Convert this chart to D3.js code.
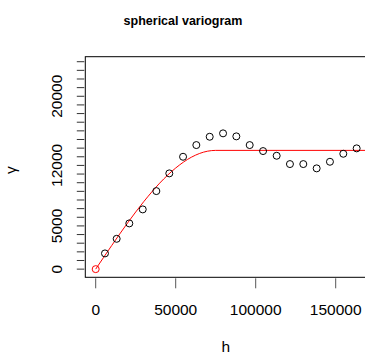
<!DOCTYPE html>
<html><head><meta charset="utf-8">
<script src="https://cdn.jsdelivr.net/npm/d3@7"></script>
<style>body{margin:0;background:#fff}svg{display:block}text{font-family:"Liberation Sans",Arial,sans-serif}</style>
</head><body>
<script>
// empirical variogram (lag distance h, semivariance gamma)
const lagH = [0, 5800, 13100, 21000, 29400, 37900, 46000, 54600, 62900, 71250, 79600, 87900, 96250, 104600, 113100, 121400, 129750, 138100, 146400, 154750, 163100];
const gammaVals = [0, 1818, 3508, 5291, 6911, 9030, 11079, 13001, 14355, 15316, 15710, 15362, 14355, 13661, 13117, 12156, 12156, 11658, 12422, 13348, 13973];
const pointColors = ["red"].concat(d3.range(20).map(() => "black"));
// fitted spherical model line
const lineH = [0, 10000, 20000, 30000, 40000, 50000, 60000, 70000, 75000, 180000];
const lineGamma = [0, 2730, 5360, 7800, 9950, 11700, 12970, 13650, 13740, 13740];
const xTicks = [0, 50000, 100000, 150000];
const yTicks = d3.range(0, 25000, 1000);
const yLabels = [0, 5000, 12000, 20000];
const xLim = [0, 162500], yLim = [0, 23634];

const W = 365, H = 355;
const box = {l: 85.3, r: 366.1, t: 56.7, b: 277.3};
const pad = (lim) => { const d = (lim[1] - lim[0]) * 0.04; return [lim[0] - d, lim[1] + d]; };
const x = d3.scaleLinear().domain(pad(xLim)).range([box.l, box.r]);
const y = d3.scaleLinear().domain(pad(yLim)).range([box.b, box.t]);

const svg = d3.select("body").append("svg").attr("width", W).attr("height", H);
svg.append("defs").append("clipPath").attr("id", "clip").append("rect")
  .attr("x", box.l).attr("y", box.t).attr("width", box.r - box.l).attr("height", box.b - box.t);

// title
svg.append("text").attr("x", 183).attr("y", 25).attr("text-anchor", "middle")
  .attr("font-weight", "bold").attr("font-size", 12.5).text("spherical variogram");

// box
svg.append("rect").attr("x", box.l).attr("y", box.t).attr("width", box.r - box.l).attr("height", box.b - box.t)
  .attr("fill", "none").attr("stroke", "#000").attr("stroke-width", 1);

// x axis
const xa = svg.append("g");
xa.selectAll("line").data(xTicks).join("line")
  .attr("x1", d => x(d)).attr("x2", d => x(d)).attr("y1", box.b + 1).attr("y2", box.b + 11)
  .attr("stroke", "#555").attr("stroke-width", 1);
xa.selectAll("text").data(xTicks).join("text")
  .attr("x", d => x(d)).attr("y", 315).attr("text-anchor", "middle").attr("font-size", 15.5)
  .text(d => d);
svg.append("text").attr("x", (box.l + box.r) / 2).attr("y", 352).attr("text-anchor", "middle")
  .attr("font-size", 15.5).text("h");

// y axis
const ya = svg.append("g");
ya.selectAll("line").data(yTicks).join("line")
  .attr("x1", box.l - 8.5).attr("x2", box.l - 1).attr("y1", d => y(d)).attr("y2", d => y(d))
  .attr("stroke", "#333").attr("stroke-width", 1);
ya.selectAll("text").data(yLabels).join("text")
  .attr("transform", d => `translate(62,${y(d)}) rotate(-90)`).attr("text-anchor", "middle")
  .attr("font-size", 15.5).text(d => d);
svg.append("text").attr("transform", `translate(16,170) rotate(-90)`)
  .attr("text-anchor", "middle").attr("font-size", 15.5).text("γ");

// model line
const g = svg.append("g").attr("clip-path", "url(#clip)");
g.append("path").datum(lineH.map((h, i) => [h, lineGamma[i]]))
  .attr("d", d3.line().x(d => x(d[0])).y(d => y(d[1])).curve(d3.curveMonotoneX))
  .attr("fill", "none").attr("stroke", "red").attr("stroke-width", 1);

// points
svg.append("g").selectAll("circle").data(lagH.map((h, i) => ({h, v: gammaVals[i], c: pointColors[i]})))
  .join("circle").attr("cx", d => x(d.h)).attr("cy", d => y(d.v)).attr("r", 3.5)
  .attr("fill", "none").attr("stroke", d => d.c).attr("stroke-width", 1);
</script>
</body></html>
